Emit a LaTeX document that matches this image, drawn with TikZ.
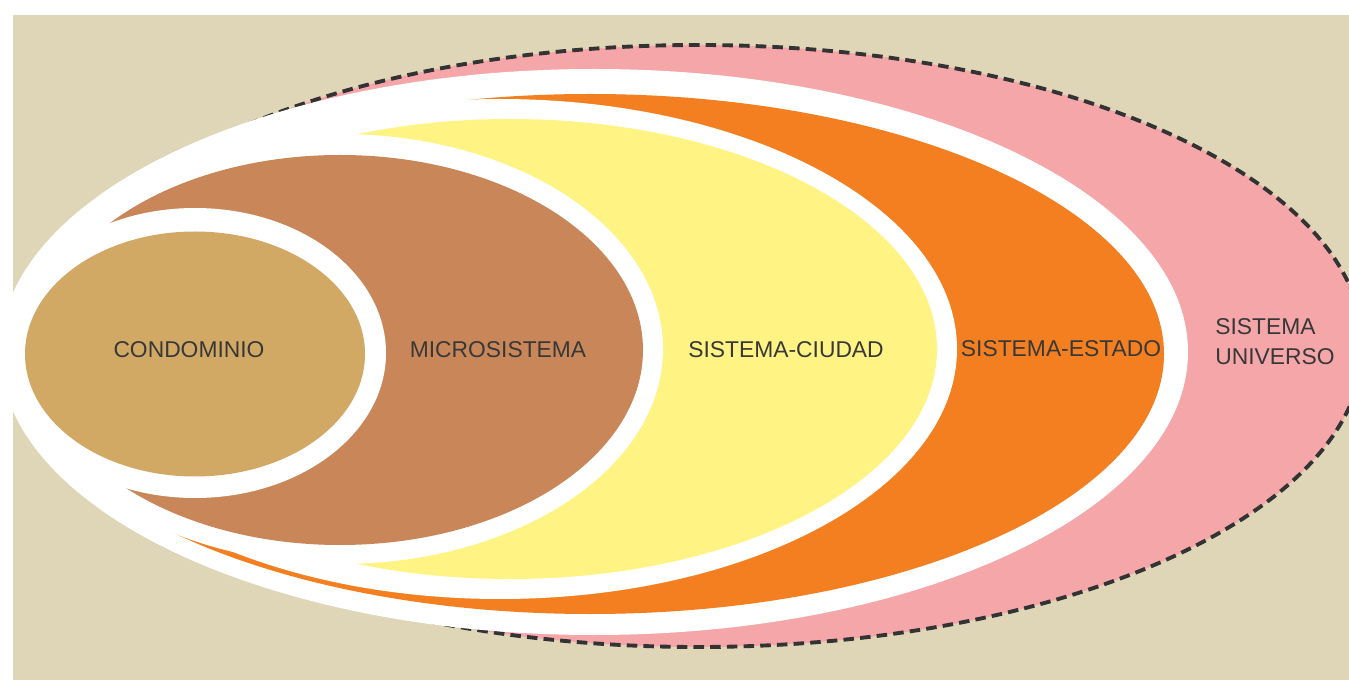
\documentclass[tikz,border=0pt]{standalone}
\usepackage{fontspec}
\setmainfont{Liberation Sans}
\definecolor{bgbeige}{HTML}{DFD6B7}
\definecolor{universo}{HTML}{F4A6A9}
\definecolor{estado}{HTML}{F37F21}
\definecolor{ciudad}{HTML}{FEF383}
\definecolor{micro}{HTML}{C98759}
\definecolor{condo}{HTML}{D1A965}
\definecolor{labeltext}{HTML}{383838}
\tikzset{
  gap/.style={fill=white},
  dashedrim/.style={draw=black!80, line width=2.2pt, dash pattern=on 6pt off 3.5pt},
  lbl/.style={font=\fontsize{13pt}{17pt}\selectfont, text=labeltext, inner sep=0pt},
}
\begin{document}
\begin{tikzpicture}[x=0.02cm, y=0.02cm]
  % page and backdrop
  \fill[white] (0,0) rectangle (1349,680);
  \useasboundingbox (0,0) rectangle (1349,680);
  \clip (0,0) rectangle (1349,680);
  \fill[bgbeige] (13,0) rectangle (1349,665);

  % outermost level, dashed rim
  \path[fill=universo, dashedrim] (698,334) ellipse [x radius=665, y radius=301];

  % nested levels: a white gap ellipse, then the coloured ellipse
  \fill[gap]     (594,328) ellipse [x radius=594, y radius=283];
  \fill[estado]  (590,326) ellipse [x radius=574, y radius=260];
  \fill[gap]     (500,331) ellipse [x radius=457, y radius=250];
  \fill[ciudad]  (510,331) ellipse [x radius=427, y radius=230];
  \fill[gap]     (340,331) ellipse [x radius=323, y radius=215];
  \fill[micro]   (340,330) ellipse [x radius=303, y radius=195];
  \fill[gap]     (195,327) ellipse [x radius=191, y radius=145];
  \fill[condo]   (195,326) ellipse [x radius=170, y radius=122.5];

  % labels
  \node[lbl, anchor=base] (condominio) at (189,322) {CONDOMINIO};
  \node[lbl, anchor=base] (microsistema) at (498,322) {MICROSISTEMA};
  \node[lbl, anchor=base] (ciudad) at (786,322) {SISTEMA-CIUDAD};
  \node[lbl, anchor=base] (estado) at (1061,323) {SISTEMA-ESTADO};
  \node[lbl, anchor=west, align=left] (universo) at (1215,338) {SISTEMA\\UNIVERSO};
\end{tikzpicture}
\end{document}
